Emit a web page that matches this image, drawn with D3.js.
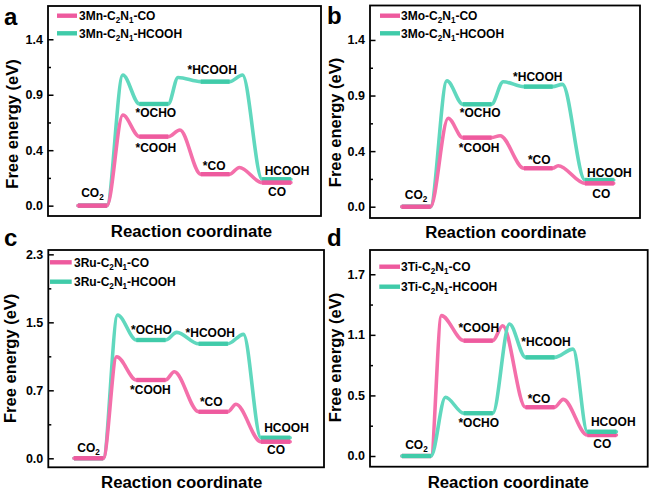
<!DOCTYPE html>
<html><head><meta charset="utf-8">
<script src="https://cdn.jsdelivr.net/npm/d3@7"></script>
<style>
body{margin:0;background:#fff}
svg{display:block}
text{font-family:"Liberation Sans",Arial,Helvetica,sans-serif;font-weight:bold;fill:#000}
</style>
</head><body>
<svg id="chart" width="651" height="496"></svg>
<script>
// ---------------- DATA ----------------
const panelLetters = ["a", "b", "c", "d"];
const metals = ["Mn", "Mo", "Ru", "Ti"];
const seriesSuffix = ["CO", "HCOOH"];

// Intermediates per path: [CO2, *COOH, *CO, CO] and [CO2, *OCHO, *HCOOH, HCOOH]
const coLevels_a = [0, 0.56, 0.255, 0.187];
const coTS_a = [0.735, 0.614, 0.31];
const coTSpos_a = [0.73, 1.66, 2.63];
const hcLevels_a = [0, 0.825, 1.006, 0.214];
const hcTS_a = [1.06, 1.04, 1.06];
const hcTSpos_a = [0.73, 1.63, 2.68];

const coLevels_b = [0, 0.559, 0.311, 0.189];
const coTS_b = [0.716, 0.575, 0.332];
const coTSpos_b = [0.76, 1.61, 2.56];
const hcLevels_b = [0, 0.829, 0.972, 0.216];
const hcTS_b = [1.02, 1.012, 0.99];
const hcTSpos_b = [0.74, 1.66, 2.63];

const coLevels_c = [0, 0.883, 0.525, 0.187];
const coTS_c = [1.145, 0.976, 0.609];
const coTSpos_c = [0.685, 1.61, 2.60];
const hcLevels_c = [0, 1.334, 1.292, 0.232];
const hcTS_c = [1.616, 1.42, 1.398];
const hcTSpos_c = [0.70, 1.65, 2.72];

const coLevels_d = [0, 1.079, 0.456, 0.196];
const coTS_d = [1.313, 1.219, 0.53];
const coTSpos_d = [0.64, 1.63, 2.61];
const hcLevels_d = [0, 0.40, 0.923, 0.227];
const hcTS_d = [0.549, 1.235, 1.0];
const hcTSpos_d = [0.705, 1.74, 2.77];

const coLabels = ["CO2", "*COOH", "*CO", "CO"];
const hcLabels = ["CO2", "*OCHO", "*HCOOH", "HCOOH"];

const tickVals_ab = [0, 0.45, 0.9, 1.35];
const tickLabels_ab = ["0.0", "0.4", "0.9", "1.4"];
const tickVals_c = [0, 0.7667, 1.5333, 2.3];
const tickLabels_c = ["0.0", "0.7", "1.5", "2.3"];
const tickVals_d = [0, 0.5667, 1.1333, 1.7];
const tickLabels_d = ["0.0", "0.5", "1.1", "1.7"];

const xTitle = "Reaction coordinate";
const yTitle = "Free energy (eV)";

// ---------------- LAYOUT / STYLE ----------------
const plateauW = 0.47;
const colors = {
  co: {curve: "#F46FAA", plateau: "#EE5A9E"},
  hc: {curve: "#60D8BE", plateau: "#40CBA9"}
};

const panels = [
  {co: [coLevels_a, coTS_a, coTSpos_a], hc: [hcLevels_a, hcTS_a, hcTSpos_a],
   ticks: [tickVals_ab, tickLabels_ab],
   box: [48, 6, 321, 216], xDom: [-0.49, 3.96], yDom: [-0.084, 1.62],
   leg: {x0: 9, x1: 29, tx: 31, y: 9.7, gap: 17.6},
   xt: [191.5, 237], yt: [12, 124], letter: [4, 25], greenTop: false,
   // label offsets: [dx, dy(baseline relative to plateau)]
   coOff: [[0, -9], [2, 15], [-1, -4], [0.5, 13.3]],
   hcOff: [null, [2, 13.3], [-3, -7.7], [10.5, -4.3]]},
  {co: [coLevels_b, coTS_b, coTSpos_b], hc: [hcLevels_b, hcTS_b, hcTSpos_b],
   ticks: [tickVals_ab, tickLabels_ab],
   box: [370, 5.5, 640, 218], xDom: [-0.519, 3.90], yDom: [-0.0915, 1.629],
   leg: {x0: 10, x1: 30, tx: 31, y: 10.2, gap: 17.6},
   xt: [505.8, 238], yt: [335.5, 122.5], letter: [327, 24], greenTop: false,
   coOff: [[0, -7.7], [2, 14.6], [1, -4], [2, 15]],
   hcOff: [null, [3, 12.4], [-0.5, -6], [10, -3.3]]},
  {co: [coLevels_c, coTS_c, coTSpos_c], hc: [hcLevels_c, hcTS_c, hcTSpos_c],
   ticks: [tickVals_c, tickLabels_c],
   box: [48.3, 250, 324, 467.3], xDom: [-0.4125, 4.013], yDom: [-0.1015, 2.349],
   leg: {x0: 1.7, x1: 23.4, tx: 25.7, y: 12.3, gap: 19.4},
   xt: [181.7, 488.3], yt: [10, 358.3], letter: [4, 246], greenTop: false,
   coOff: [[0, -6.6], [-0.5, 14], [-2, -6], [0.5, 12.6]],
   hcOff: [null, [0.5, -5.7], [-3, -7], [11, -6]]},
  {co: [coLevels_d, coTS_d, coTSpos_d], hc: [hcLevels_d, hcTS_d, hcTSpos_d],
   ticks: [tickVals_d, tickLabels_d],
   box: [370, 250, 647.7, 466.7], xDom: [-0.516, 3.977], yDom: [-0.1001, 1.927],
   leg: {x0: 9.3, x1: 30, tx: 31, y: 16.7, gap: 20},
   xt: [508.3, 487.7], yt: [335.5, 357.5], letter: [327, 246], greenTop: true,
   coOff: [null, [0.5, -8.4], [-1, -4.6], [0.4, 12.7]],
   hcOff: [[0, -7], [0.5, 13.4], [6, -11.3], [11.4, -5.7]]}
];

// ---------------- DRAW ----------------
const svg = d3.select("#chart");

function richText(sel, str) {
  // str like "3Mn-C_2N_1-CO" : characters after '_' are subscripts (one char)
  const parts = [];
  let i = 0, buf = "";
  while (i < str.length) {
    if (str[i] === "_") {
      if (buf) parts.push([buf, false]);
      buf = "";
      parts.push([str[i + 1], true]);
      i += 2;
    } else { buf += str[i]; i++; }
  }
  if (buf) parts.push([buf, false]);
  let shifted = false;
  parts.forEach(([t, sub]) => {
    const ts = sel.append("tspan").text(t);
    if (sub) { ts.attr("font-size", "0.68em").attr("dy", shifted ? 0 : 3.2); shifted = true; }
    else { if (shifted) { ts.attr("dy", -3.2); shifted = false; } }
  });
}

panels.forEach((p, pi) => {
  const [bx0, by0, bx1, by1] = p.box;
  const x = d3.scaleLinear().domain(p.xDom).range([bx0, bx1]);
  const y = d3.scaleLinear().domain(p.yDom).range([by1, by0]);
  const g = svg.append("g");

  // axes ticks (inward) on left
  const [tv, tl] = p.ticks;
  const minor = tv.slice(0, -1).map((v, i) => (v + tv[i + 1]) / 2);
  const axMinor = g.append("g").attr("transform", `translate(${bx0},0)`)
    .call(d3.axisLeft(y).tickValues(minor).tickSize(-3).tickFormat(""));
  const axMajor = g.append("g").attr("transform", `translate(${bx0},0)`)
    .call(d3.axisLeft(y).tickValues(tv).tickSize(-5.5).tickPadding(5)
      .tickFormat((d, i) => tl[i]));
  [axMinor, axMajor].forEach(a => {
    a.select(".domain").remove();
    a.selectAll("line").attr("stroke", "#000").attr("stroke-width", 1.5);
    a.selectAll("text").attr("font-size", 12.5).attr("font-family", null)
      .style("font-weight", "bold");
  });

  const line = d3.line().x(d => x(d[0])).y(d => y(d[1])).curve(d3.curveMonotoneX);

  function drawSeries(key) {
    const [levels, ts, tsPos] = p[key];
    const pts = [];
    levels.forEach((v, i) => {
      pts.push([i, v]); pts.push([i + plateauW, v]);
      if (i < ts.length) pts.push([tsPos[i], ts[i]]);
    });
    g.append("path").attr("d", line(pts)).attr("fill", "none")
      .attr("stroke", colors[key].curve).attr("stroke-width", 3.6)
      .attr("stroke-linejoin", "round").attr("stroke-linecap", "round");
    g.selectAll(null).data(levels).enter().append("line")
      .attr("x1", (d, i) => x(i)).attr("x2", (d, i) => x(i + plateauW))
      .attr("y1", d => y(d)).attr("y2", d => y(d))
      .attr("stroke", colors[key].plateau).attr("stroke-width", 4.4);
  }
  if (p.greenTop) { drawSeries("co"); drawSeries("hc"); }
  else { drawSeries("hc"); drawSeries("co"); }

  // state labels
  function drawLabels(key, names, offs) {
    const levels = p[key][0];
    levels.forEach((v, i) => {
      const o = offs[i];
      if (!o) return;
      const t = g.append("text").attr("text-anchor", "middle").attr("font-size", 12)
        .attr("x", x(i + plateauW / 2) + o[0]).attr("y", y(v) + o[1]);
      richText(t, names[i] === "CO2" ? "CO_2" : names[i]);
    });
  }
  drawLabels("co", coLabels, p.coOff);
  drawLabels("hc", hcLabels, p.hcOff);

  // frame
  g.append("rect").attr("x", bx0).attr("y", by0).attr("width", bx1 - bx0).attr("height", by1 - by0)
    .attr("fill", "none").attr("stroke", "#000").attr("stroke-width", 1.8);

  // legend
  seriesSuffix.forEach((s, si) => {
    const ly = by0 + p.leg.y + si * p.leg.gap;
    const key = si === 0 ? "co" : "hc";
    g.append("line").attr("x1", bx0 + p.leg.x0).attr("x2", bx0 + p.leg.x1)
      .attr("y1", ly).attr("y2", ly).attr("stroke", colors[key].plateau).attr("stroke-width", 4.4);
    const t = g.append("text").attr("x", bx0 + p.leg.tx).attr("y", ly + 4.3).attr("font-size", 12);
    richText(t, `3${metals[pi]}-C_2N_1-${s}`);
  });

  // titles
  g.append("text").attr("x", p.xt[0]).attr("y", p.xt[1]).attr("text-anchor", "middle")
    .attr("font-size", 16.8).text(xTitle);
  g.append("text").attr("transform", `translate(${p.yt[0]},${p.yt[1]}) rotate(-90)`)
    .attr("text-anchor", "middle").attr("dy", "0.36em").attr("font-size", 16.5).text(yTitle);
  g.append("text").attr("x", p.letter[0]).attr("y", p.letter[1]).attr("font-size", 24)
    .text(panelLetters[pi]);
});
</script>
</body></html>
